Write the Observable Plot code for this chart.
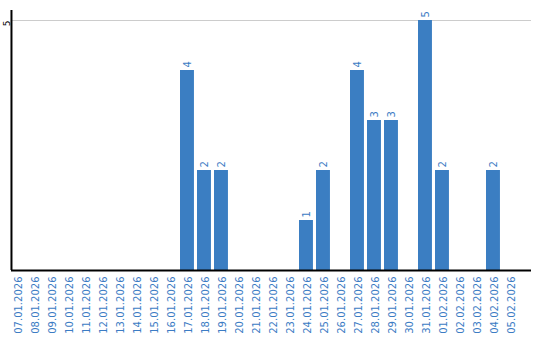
<!DOCTYPE html>
<html>
<head>
<meta charset="utf-8">
<script src="https://cdn.jsdelivr.net/npm/d3@7"></script>
<script src="https://cdn.jsdelivr.net/npm/@observablehq/plot@0.6"></script>
<style>
  html, body { margin: 0; padding: 0; background: #fff; }
  #chart svg { display: block; }
</style>
</head>
<body>
<div id="chart"></div>
<script>
const dates = [
  "07.01.2026","08.01.2026","09.01.2026","10.01.2026","11.01.2026","12.01.2026",
  "13.01.2026","14.01.2026","15.01.2026","16.01.2026","17.01.2026","18.01.2026",
  "19.01.2026","20.01.2026","21.01.2026","22.01.2026","23.01.2026","24.01.2026",
  "25.01.2026","26.01.2026","27.01.2026","28.01.2026","29.01.2026","30.01.2026",
  "31.01.2026","01.02.2026","02.02.2026","03.02.2026","04.02.2026","05.02.2026"
];
const counts = [
  0,0,0,0,0,0,
  0,0,0,0,4,2,
  2,0,0,0,0,1,
  2,0,4,3,3,0,
  5,2,0,0,2,0
];
const yTicks = [5];

const data = dates.map((d, i) => ({date: d, value: counts[i]}));
const labelled = data.filter(d => d.value > 0);

const blue = "#3b7ec2";
const textBlue = "#3c7cc4";

const chart = Plot.plot({
  width: 540,
  height: 340,
  marginLeft: 11,
  marginRight: 9,
  marginTop: 10,
  marginBottom: 70,
  style: {fontFamily: "DejaVu Sans", background: "#fff"},
  x: {domain: dates, range: [10, 516.94], paddingInner: 0.18, paddingOuter: 0, round: false},
  y: {domain: [0, 5.2]},
  marks: [
    Plot.gridY(yTicks, {stroke: "#cccccc", strokeOpacity: 1}),
    Plot.barY(data, {x: "date", y: "value", fill: blue}),
    Plot.text(labelled, {x: "date", y: "value", text: d => String(d.value), rotate: -90, textAnchor: "start", dy: -3, fill: textBlue, fontSize: 10}),
    Plot.ruleY([0], {stroke: "#000", strokeWidth: 2}),
    Plot.ruleX([dates[0]], {x: d => d, dx: -6, stroke: "#000", strokeWidth: 2}),
    Plot.axisY(yTicks, {tickSize: 0, tickPadding: 0, tickFormat: d => String(d), rotate: -90, textAnchor: "middle", fontSize: 9, fill: "#000", dx: -4, dy: 3, label: null}),
    Plot.axisX({tickSize: 0, tickPadding: 6, rotate: -90, textAnchor: "end", fontSize: 10, fill: textBlue, dx: -3, label: null})
  ]
});
document.getElementById("chart").appendChild(chart);
</script>
</body>
</html>
